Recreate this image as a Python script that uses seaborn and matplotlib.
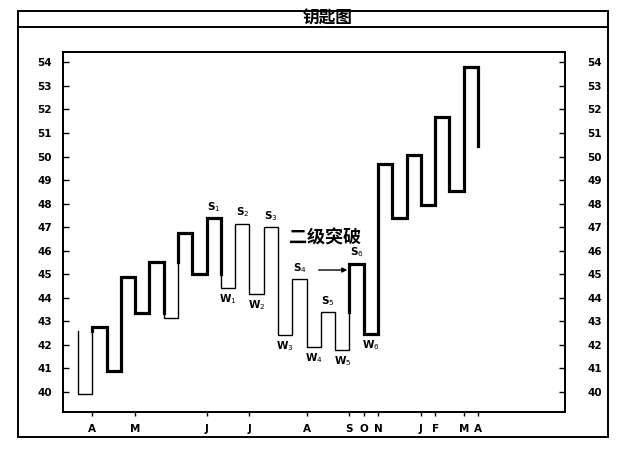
import matplotlib
matplotlib.use('Agg')
import matplotlib.pyplot as plt
import seaborn as sns
import pandas as pd
from matplotlib.patches import Rectangle
from matplotlib.lines import Line2D

# Kagi turning levels (price), one per turn
levels = [42.6, 39.9, 42.75, 40.9, 44.9, 43.35, 45.5, 43.15, 46.75, 45.0,
          47.4, 44.4, 47.15, 44.15, 47.0, 42.4, 44.8, 41.9, 43.4, 41.8,
          45.45, 42.45, 49.7, 47.4, 50.05, 47.95, 51.7, 48.55, 53.8, 50.45]

month_labels = ['A', 'M', 'J', 'J', 'A', 'S', 'O', 'N', 'J', 'F', 'M', 'A']
month_turns = [1, 4, 9, 12, 16, 19, 20, 21, 24, 25, 27, 28]

y_ticks = list(range(40, 55))

# shoulder / waist labels -> index of the level they mark
shoulders = {'1': 10, '2': 12, '3': 14, '4': 16, '5': 18, '6': 20}
waists = {'1': 11, '2': 13, '3': 15, '4': 17, '5': 19, '6': 21}

breakout_text = '二级突破'

sns.set_theme(style='white')
plt.rcParams['font.family'] = ['DejaVu Sans']
plt.rcParams['text.color'] = 'black'
plt.rcParams['xtick.color'] = 'black'
plt.rcParams['ytick.color'] = 'black'

# build kagi path, switching thin/thick at previous shoulder / waist
segs = []
state = 'thin'
cur = [(0, levels[0])]
for i in range(len(levels) - 1):
    a, b = levels[i], levels[i + 1]
    flip = False
    if i > 0:
        ref = levels[i - 1]
        if state == 'thin' and b > a and b > ref:
            flip = True
        if state == 'thick' and b < a and b < ref:
            flip = True
    if flip:
        cur.append((i, ref))
        segs.append((cur, state))
        state = 'thick' if state == 'thin' else 'thin'
        cur = [(i, ref)]
    cur.append((i, b))
    if i < len(levels) - 2:
        cur.append((i + 1, b))
segs.append((cur, state))

rows = []
for k, (pts, kind) in enumerate(segs):
    for j, (x, y) in enumerate(pts):
        rows.append({'seg': k, 'order': j, 'x': x, 'y': y, 'kind': kind})
df = pd.DataFrame(rows)

fig = plt.figure(figsize=(6.27, 4.51), dpi=100)
ax = fig.add_axes([0.1005, 0.0865, 0.8006, 0.7982])

sns.lineplot(data=df, x='x', y='y', units='seg', estimator=None, sort=False,
             size='kind', sizes={'thin': 1.0, 'thick': 2.3}, color='black',
             legend=False, ax=ax, solid_joinstyle='miter', solid_capstyle='projecting')

ax.set_xlim(-1.05, 34.09)
ax.set_ylim(39.15, 54.44)
ax.set_xlabel('')
ax.set_ylabel('')

tick_font = dict(fontsize=7.5, fontweight='bold')
ax.set_xticks(month_turns)
ax.set_xticklabels(month_labels, **tick_font)
ax.set_yticks(y_ticks)
ax.set_yticklabels([str(v) for v in y_ticks], **tick_font)
ax.tick_params(axis='x', direction='out', length=3, width=1, pad=6, bottom=True)
ax.tick_params(axis='y', direction='in', length=4, width=1, pad=8, left=True)

ax2 = ax.twinx()
ax2.set_ylim(ax.get_ylim())
ax2.set_yticks(y_ticks)
ax2.set_yticklabels([str(v) for v in y_ticks], **tick_font)
ax2.tick_params(axis='y', direction='in', length=4, width=1, pad=16, right=True)
ax2.grid(False)

for a in (ax, ax2):
    for sp in a.spines.values():
        sp.set_color('black')
        sp.set_linewidth(1.3)

# shoulder / waist labels
for k, j in shoulders.items():
    ax.annotate('S$_' + k + '$', (j - 0.5, levels[j]), xytext=(0, 8),
                textcoords='offset points', ha='center', va='center',
                fontsize=7.5, fontweight='bold')
for k, j in waists.items():
    ax.annotate('W$_' + k + '$', (j - 0.5, levels[j]), xytext=(0, -8),
                textcoords='offset points', ha='center', va='center',
                fontsize=7.5, fontweight='bold')

# breakout arrow and text
ax.annotate('', xy=(18.85, 45.18), xytext=(16.85, 45.18),
            arrowprops=dict(arrowstyle='-|>', color='black', lw=1.0,
                            mutation_scale=7, shrinkA=0, shrinkB=0))
ax.text(17.3, 46.55, breakout_text, ha='center', va='center', fontsize=13,
        fontweight='bold', family=['Noto Sans CJK SC', 'DejaVu Sans'])

# outer frame and title bar
fig.add_artist(Rectangle((18 / 627, 1 - 437 / 451), 590 / 627, 426 / 451,
                         transform=fig.transFigure, fill=False,
                         edgecolor='black', linewidth=1.4))
fig.add_artist(Line2D([18 / 627, 608 / 627], [1 - 27 / 451, 1 - 27 / 451],
                      transform=fig.transFigure, color='black', linewidth=1.4))
fig.text(328 / 627, 1 - 19 / 451, '钥匙图', ha='center', va='center',
         fontsize=12, fontweight='bold',
         family=['Noto Sans CJK SC', 'DejaVu Sans'])

fig.savefig('out.png', dpi=100, facecolor='white')
